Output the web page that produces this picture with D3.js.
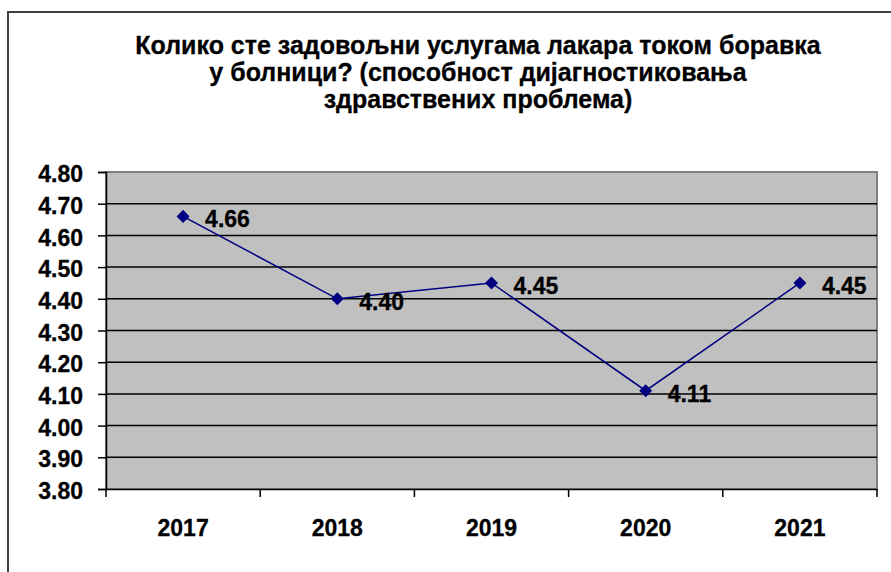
<!DOCTYPE html>
<html>
<head>
<meta charset="utf-8">
<script src="https://cdn.jsdelivr.net/npm/d3@7"></script>
<style>
html,body{margin:0;padding:0;background:#fff;}
svg{display:block;}
text{font-family:"Liberation Sans",Arial,sans-serif;font-weight:bold;fill:#000;}
</style>
</head>
<body>
<svg id="chart" width="891" height="572"></svg>
<script>
const titleLines = [
  "Колико сте задовољни услугама лакара током боравка",
  "у болници? (способност дијагностиковања",
  "здравствених проблема)"
];
const years = ["2017", "2018", "2019", "2020", "2021"];
const values = [4.66, 4.40, 4.45, 4.11, 4.45];
const yTicks = [3.80, 3.90, 4.00, 4.10, 4.20, 4.30, 4.40, 4.50, 4.60, 4.70, 4.80];

const svg = d3.select("#chart");
const W = 891, H = 572;
const plot = {left: 106, right: 877, top: 172, bottom: 489};

// outer chart border (cut off at right/bottom)
svg.append("rect")
  .attr("x", 8).attr("y", 12)
  .attr("width", W + 20).attr("height", H + 20)
  .attr("fill", "#fff").attr("stroke", "#404040").attr("stroke-width", 2);

// title
svg.append("g").selectAll("text").data(titleLines).join("text")
  .attr("x", 478).attr("y", (d, i) => 54 + i * 27)
  .attr("text-anchor", "middle")
  .style("font-size", "25px")
  .style("stroke", "#000").style("stroke-width", 0.3)
  .text(d => d);

const x = d3.scaleBand().domain(years).range([plot.left, plot.right]).padding(0);
const y = d3.scaleLinear().domain([3.8, 4.8]).range([plot.bottom, plot.top]);

// plot background
svg.append("rect")
  .attr("x", plot.left).attr("y", plot.top)
  .attr("width", plot.right - plot.left).attr("height", plot.bottom - plot.top)
  .attr("fill", "#c0c0c0").attr("stroke", "#808080").attr("stroke-width", 2);

// gridlines
svg.append("g").selectAll("line").data(yTicks.filter(t => t > 3.8 && t < 4.8)).join("line")
  .attr("x1", plot.left).attr("x2", plot.right)
  .attr("y1", d => y(d)).attr("y2", d => y(d))
  .attr("stroke", "#000").attr("stroke-width", 1.5);

// y axis
const yAxis = d3.axisLeft(y).tickValues(yTicks).tickFormat(d3.format(".2f")).tickSize(8).tickPadding(15);
const gy = svg.append("g").attr("transform", `translate(${plot.left},0)`).call(yAxis);
gy.select(".domain").attr("stroke", "#000").attr("stroke-width", 1.5);
gy.selectAll(".tick line").attr("stroke", "#000").attr("stroke-width", 1.5);
gy.selectAll(".tick text").style("font-size", "23px").attr("dy", "0.42em")
  .style("font-family", "'Liberation Sans',Arial,sans-serif").style("font-weight", "bold")
  .style("stroke", "#000").style("stroke-width", 0.3).attr("fill", "#000");

// x axis
const xAxis = d3.axisBottom(x).tickSize(0).tickPadding(30);
const gx = svg.append("g").attr("transform", `translate(0,${plot.bottom})`).call(xAxis);
gx.select(".domain").attr("stroke", "#000").attr("stroke-width", 1.5);
gx.selectAll(".tick text").style("font-size", "23px").attr("dy", "0.75em")
  .style("font-family", "'Liberation Sans',Arial,sans-serif").style("font-weight", "bold")
  .style("stroke", "#000").style("stroke-width", 0.3).attr("fill", "#000");
// category boundary ticks
const bounds = years.map(d => x(d)).concat([x(years[years.length - 1]) + x.bandwidth()]);
svg.append("g").selectAll("line").data(bounds).join("line")
  .attr("x1", d => d).attr("x2", d => d)
  .attr("y1", plot.bottom).attr("y2", plot.bottom + 8)
  .attr("stroke", "#000").attr("stroke-width", 1.5);

const cx = d => x(d) + x.bandwidth() / 2;
const pts = years.map((d, i) => ({year: d, v: values[i]}));

// line
svg.append("path")
  .datum(pts)
  .attr("fill", "none").attr("stroke", "#000080").attr("stroke-width", 1.5)
  .attr("d", d3.line().x(d => cx(d.year)).y(d => y(d.v)));

// markers
svg.append("g").selectAll("path").data(pts).join("path")
  .attr("transform", d => `translate(${cx(d.year)},${y(d.v)}) rotate(45)`)
  .attr("d", d3.symbol().type(d3.symbolSquare).size(85))
  .attr("fill", "#000080");

// data labels
svg.append("g").selectAll("text").data(pts).join("text")
  .attr("x", d => cx(d.year) + 22)
  .attr("y", d => y(d.v) + 11)
  .style("font-size", "23px")
  .style("stroke", "#000").style("stroke-width", 0.3)
  .text(d => d.v.toFixed(2));
</script>
</body>
</html>
